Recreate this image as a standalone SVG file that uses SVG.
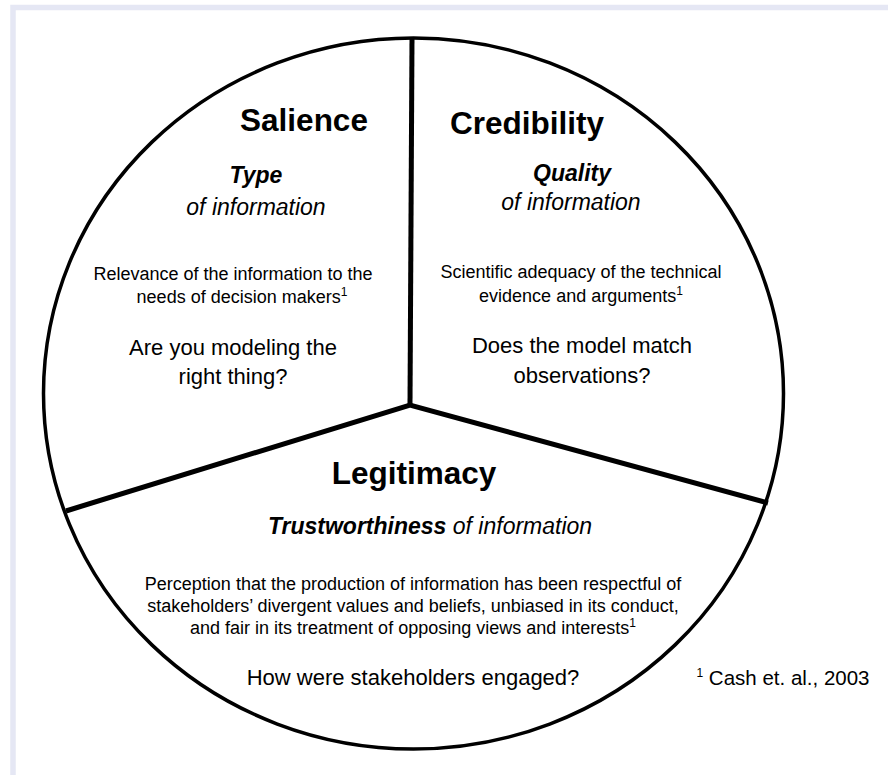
<svg xmlns="http://www.w3.org/2000/svg" width="888" height="775" viewBox="0 0 888 775">
<style>
text{font-family:"Liberation Sans",Arial,Helvetica,sans-serif;fill:#000;text-anchor:middle}
.h{font-weight:bold;font-size:31.5px}
.sub{font-style:italic;font-size:23px}
.bi{font-weight:bold;font-style:italic}
.d{font-size:18px}
.q{font-size:22px}
.sup{font-size:12px}
.outline{fill:none;stroke:#000;stroke-width:3.5}
.spoke{fill:none;stroke:#000;stroke-width:5;stroke-linecap:butt}
</style>
<rect x="0" y="0" width="888" height="775" fill="#fff"/>
<path d="M13 775 V7.5 H888" fill="none" stroke="#e5e7f4" stroke-width="5.5"/>
<g id="pie">
<ellipse class="outline" cx="413.5" cy="393.5" rx="370" ry="355.5"/>
</g>
<g id="connectors">
<line class="spoke" x1="412" y1="38" x2="410" y2="405"/>
<polyline class="spoke" points="66,511 410,405 768,503"/>
</g>
<g id="salience">
<text class="h" x="304" y="131">Salience</text>
<text class="sub" x="256" y="183"><tspan class="bi">Type</tspan></text>
<text class="sub" x="256" y="215">of information</text>
<text class="d" x="233" y="280">Relevance of the information to the</text>
<text class="d" x="242" y="303">needs of decision makers<tspan class="sup" dy="-7">1</tspan></text>
<text class="q" x="233" y="355">Are you modeling the</text>
<text class="q" x="233" y="384">right thing?</text>
</g>
<g id="credibility">
<text class="h" x="527" y="134">Credibility</text>
<text class="sub" x="572" y="181"><tspan class="bi">Quality</tspan></text>
<text class="sub" x="571" y="210">of information</text>
<text class="d" x="581" y="278">Scientific adequacy of the technical</text>
<text class="d" x="581" y="302">evidence and arguments<tspan class="sup" dy="-7">1</tspan></text>
<text class="q" x="582" y="353">Does the model match</text>
<text class="q" x="582" y="383">observations?</text>
</g>
<g id="legitimacy">
<text class="h" x="414" y="484">Legitimacy</text>
<text class="sub" x="430" y="534"><tspan class="bi">Trustworthiness</tspan> of information</text>
<text class="d" x="413" y="590">Perception that the production of information has been respectful of</text>
<text class="d" x="413" y="612">stakeholders’ divergent values and beliefs, unbiased in its conduct,</text>
<text class="d" x="413" y="634">and fair in its treatment of opposing views and interests<tspan class="sup" dy="-7">1</tspan></text>
<text class="q" x="413" y="685">How were stakeholders engaged?</text>
</g>
<g id="citation">
<text class="q" x="783" y="685" style="font-size:20.5px"><tspan class="sup" dy="-8">1</tspan><tspan dy="8"> Cash et. al., 2003</tspan></text>
</g>
</svg>
